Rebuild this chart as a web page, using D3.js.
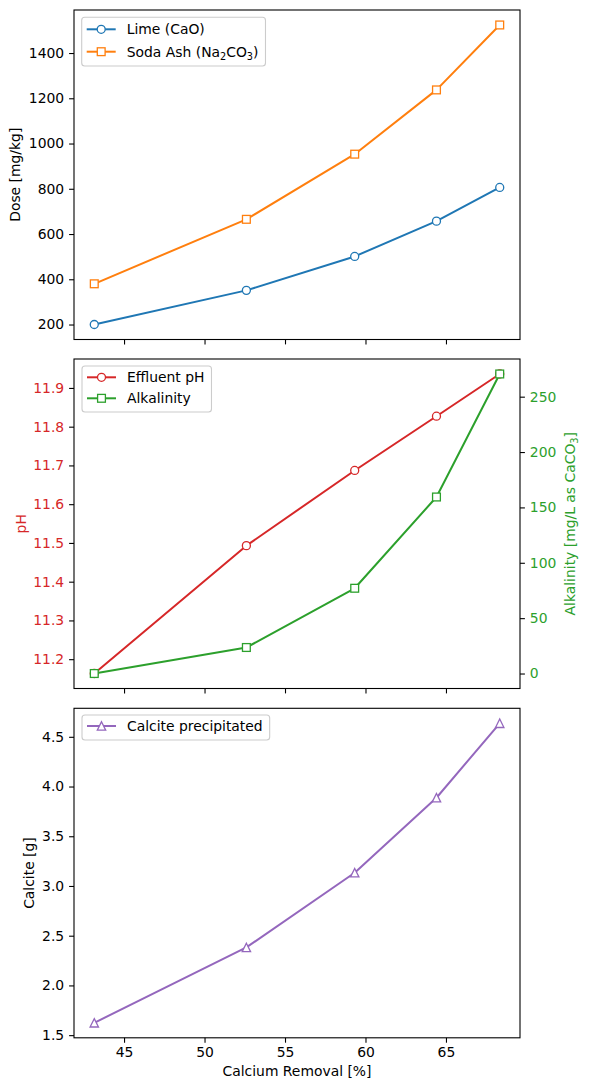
<!DOCTYPE html>
<html>
<head>
<meta charset="utf-8">
<script src="https://cdn.jsdelivr.net/npm/d3@7"></script>
<style>
  body { margin: 0; background: #fff; }
  text { font-family: "DejaVu Sans", sans-serif; }
</style>
</head>
<body>
<script>
// data
var removal = [43.15, 52.6, 59.33, 64.41, 68.34],
    lime = [200, 351, 501, 657, 806],
    sodaAsh = [380, 665, 953, 1237, 1524],
    ph = [11.163, 11.493, 11.687, 11.827, 11.936],
    alkalinity = [0, 23.5, 77, 159.4, 270.5],
    calcite = [1.624, 2.382, 3.133, 3.887, 4.636];

var xTicks = [45, 50, 55, 60, 65],
    doseTicks = [200, 400, 600, 800, 1000, 1200, 1400],
    phTicks = [11.2, 11.3, 11.4, 11.5, 11.6, 11.7, 11.8, 11.9],
    alkTicks = [0, 50, 100, 150, 200, 250],
    calciteTicks = [1.5, 2.0, 2.5, 3.0, 3.5, 4.0, 4.5];

var blue = '#1f77b4', orange = '#ff7f0e', green = '#2ca02c',
    red = '#d62728', purple = '#9467bd';

var W = 590, H = 1090,
    left = 74, right = 520, panelH = 329.5,
    tops = [10, 359, 708.3],
    fs = 13.9, tick = 4.9;

var svg = d3.select('body').append('svg')
            .attr('width', W)
            .attr('height', H);

function padded(vals) {
  var e = d3.extent(vals), m = (e[1] - e[0]) * 0.05;
  return [e[0] - m, e[1] + m];
}

var x = d3.scaleLinear().domain(padded(removal)).range([left, right]);

function yScale(vals, top) {
  return d3.scaleLinear().domain(padded(vals)).range([top + panelH, top]);
}

function styleAxis(g, color) {
  g.select('.domain').remove();
  g.selectAll('.tick line').attr('stroke', '#000').attr('stroke-width', 1.1);
  g.selectAll('.tick text')
    .attr('font-family', '"DejaVu Sans", sans-serif')
    .attr('font-size', fs)
    .attr('fill', color || '#000');
}

function xAxis(top, labels) {
  var g = svg.append('g')
    .attr('transform', 'translate(0,' + (top + panelH) + ')')
    .call(d3.axisBottom(x).tickValues(xTicks).tickSize(tick).tickPadding(tick)
      .tickFormat(labels ? d3.format('d') : ''));
  styleAxis(g);
}

function leftAxis(y, ticks, fmt, color) {
  var g = svg.append('g')
    .attr('transform', 'translate(' + left + ',0)')
    .call(d3.axisLeft(y).tickValues(ticks).tickSize(tick).tickPadding(tick).tickFormat(fmt));
  styleAxis(g, color);
}

function rightAxis(y, ticks, fmt, color) {
  var g = svg.append('g')
    .attr('transform', 'translate(' + right + ',0)')
    .call(d3.axisRight(y).tickValues(ticks).tickSize(tick).tickPadding(tick).tickFormat(fmt));
  styleAxis(g, color);
}

function frame(top) {
  svg.append('rect')
    .attr('x', left).attr('y', top)
    .attr('width', right - left).attr('height', panelH)
    .attr('fill', 'none')
    .attr('stroke', '#000')
    .attr('stroke-width', 1.1);
}

// marker shapes, centered on (0,0)
function marker(sel, shape, color) {
  if (shape === 'circle') {
    sel.append('circle').attr('r', 4);
  } else if (shape === 'square') {
    sel.append('rect').attr('x', -3.9).attr('y', -3.9).attr('width', 7.8).attr('height', 7.8);
  } else {
    sel.append('path').attr('d', 'M0,-4.2L4.2,4.2L-4.2,4.2Z');
  }
  sel.selectAll('circle,rect,path')
    .attr('fill', '#fff')
    .attr('stroke', color)
    .attr('stroke-width', 1.3);
}

function series(xs, ys, y, color, shape) {
  var pts = xs.map(function(d, i) { return [d, ys[i]]; });
  var g = svg.append('g');
  g.append('path')
    .datum(pts)
    .attr('fill', 'none')
    .attr('stroke', color)
    .attr('stroke-width', 2)
    .attr('stroke-linejoin', 'round')
    .attr('d', d3.line().x(function(d) { return x(d[0]); }).y(function(d) { return y(d[1]); }));
  g.selectAll('g.pt')
    .data(pts)
    .enter()
    .append('g')
    .attr('transform', function(d) { return 'translate(' + x(d[0]) + ',' + y(d[1]) + ')'; })
    .each(function() { marker(d3.select(this), shape, color); });
}

// text with optional subscripts: parts = [[str, isSub], ...]
function richText(t, parts) {
  var down = false;
  parts.forEach(function(p) {
    var s = t.append('tspan').text(p[0]);
    if (p[1] && !down) { s.attr('font-size', fs * 0.7).attr('dy', 3); down = true; }
    else if (!p[1] && down) { s.attr('dy', -3); down = false; }
  });
}

function yLabel(xPos, top, parts, color) {
  var t = svg.append('text')
    .attr('transform', 'translate(' + xPos + ',' + (top + panelH / 2) + ') rotate(-90)')
    .attr('text-anchor', 'middle')
    .attr('font-size', fs)
    .attr('fill', color || '#000');
  richText(t, parts);
}

function legend(bx, by, rowYs, bottomPad, items) {
  var g = svg.append('g');
  var box = g.append('rect')
    .attr('x', bx).attr('y', by)
    .attr('rx', 3)
    .attr('fill', '#fff')
    .attr('fill-opacity', 0.8)
    .attr('stroke', '#cccccc')
    .attr('stroke-width', 1.1);
  var maxW = 0;
  items.forEach(function(it, i) {
    var cy = by + rowYs[i];
    g.append('line')
      .attr('x1', bx + 5).attr('x2', bx + 34)
      .attr('y1', cy).attr('y2', cy)
      .attr('stroke', it.color).attr('stroke-width', 2);
    var m = g.append('g').attr('transform', 'translate(' + (bx + 19.5) + ',' + cy + ')');
    marker(m, it.shape, it.color);
    var t = g.append('text')
      .attr('x', bx + 45).attr('y', cy + 5)
      .attr('font-size', fs)
      .attr('fill', '#000');
    richText(t, it.label);
    maxW = Math.max(maxW, t.node().getComputedTextLength());
  });
  box.attr('width', 45 + maxW + 7)
     .attr('height', rowYs[rowYs.length - 1] + bottomPad);
}

// ---- panel 1: doses
var y1 = yScale(lime.concat(sodaAsh), tops[0]);
frame(tops[0]);
xAxis(tops[0], false);
leftAxis(y1, doseTicks, d3.format('d'));
series(removal, lime, y1, blue, 'circle');
series(removal, sodaAsh, y1, orange, 'square');
yLabel(20, tops[0], [['Dose [mg/kg]']]);
legend(81.7, 17.3, [12, 34.4], 14.3, [
  {label: [['Lime (CaO)']], color: blue, shape: 'circle'},
  {label: [['Soda Ash (Na'], ['2', true], ['CO'], ['3', true], [')']], color: orange, shape: 'square'}
]);

// ---- panel 2: pH + alkalinity
var y2 = yScale(ph, tops[1]),
    y2r = yScale(alkalinity, tops[1]);
frame(tops[1]);
xAxis(tops[1], false);
leftAxis(y2, phTicks, d3.format('.1f'), red);
rightAxis(y2r, alkTicks, d3.format('d'), green);
series(removal, ph, y2, red, 'circle');
series(removal, alkalinity, y2r, green, 'square');
yLabel(26, tops[1], [['pH']], red);
yLabel(575, tops[1], [['Alkalinity [mg/L as CaCO'], ['3', true], [']']], green);
legend(82, 366, [11.3, 32.3], 13.7, [
  {label: [['Effluent pH']], color: red, shape: 'circle'},
  {label: [['Alkalinity']], color: green, shape: 'square'}
]);

// ---- panel 3: calcite
var y3 = yScale(calcite, tops[2]);
frame(tops[2]);
xAxis(tops[2], true);
leftAxis(y3, calciteTicks, d3.format('.1f'));
series(removal, calcite, y3, purple, 'triangle');
yLabel(34, tops[2], [['Calcite [g]']]);
legend(82, 715, [11], 14, [
  {label: [['Calcite precipitated']], color: purple, shape: 'triangle'}
]);

svg.append('text')
  .attr('x', (left + right) / 2)
  .attr('y', 1076)
  .attr('text-anchor', 'middle')
  .attr('font-size', fs)
  .text('Calcium Removal [%]');
</script>
</body>
</html>
